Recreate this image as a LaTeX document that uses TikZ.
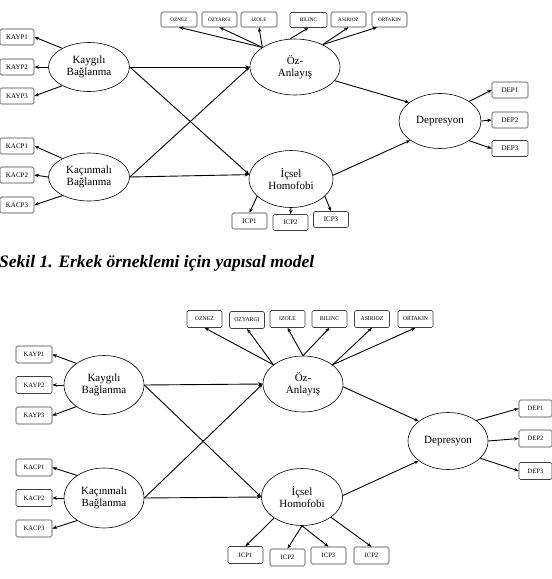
\documentclass[tikz,border=0pt]{standalone}
\usepackage{fontspec}
\setmainfont{Liberation Serif}
\usetikzlibrary{shapes.geometric,arrows.meta,calc}
\tikzset{
  lat/.style={ellipse, draw, line width=0.6pt, inner sep=0pt, align=center, font=\fontsize{11}{12.5}\selectfont},
  ind/.style={draw=black!75, rounded corners=1.5pt, line width=0.6pt, minimum width=35pt, minimum height=16pt, inner sep=0pt, font=\fontsize{7}{8}\selectfont},
  indt/.style={ind, minimum height=15pt, font=\fontsize{5.2}{6}\selectfont},
  indb/.style={ind, minimum height=17pt, font=\fontsize{5.8}{6.5}\selectfont},
  indl/.style={ind, minimum height=17pt, font=\fontsize{6.6}{7.5}\selectfont},
  arr/.style={-{Stealth[length=4.5pt,width=3.5pt]}, line width=0.9pt},
  capt/.style={anchor=base west, inner sep=0pt, font=\fontsize{17.5}{19}\selectfont\bfseries\itshape}
}
\begin{document}
\begin{tikzpicture}[x=1pt,y=-1pt]
\useasboundingbox (0,0) rectangle (552,579);
% ================= TOP MODEL =================
\node[lat, minimum width=81pt, minimum height=49pt] (KaygT) at (89,67) {Kaygılı\\Bağlanma};
\node[lat, minimum width=81pt, minimum height=48pt] (KacT) at (89,177) {Kaçınmalı\\Bağlanma};
\node[lat, minimum width=90pt, minimum height=56pt] (OzT) at (295,67) {Öz-\\Anlayış};
\node[lat, minimum width=84pt, minimum height=57pt] (IcT) at (291,179) {İçsel\\Homofobi};
\node[lat, minimum width=82pt, minimum height=55pt] (DepT) at (440,121) {Depresyon};

\node[ind, minimum width=34pt] (KAYP1t) at (17,37) {KAYP1};
\node[ind, minimum width=34pt] (KAYP2t) at (17,67) {KAYP2};
\node[ind, minimum width=34pt] (KAYP3t) at (17,96) {KAYP3};
\node[ind, minimum width=34pt] (KACP1t) at (17,146) {KACP1};
\node[ind, minimum width=34pt] (KACP2t) at (17,175) {KACP2};
\node[ind, minimum width=34pt] (KACP3t) at (17,205) {KACP3};

\node[indt, minimum width=36pt] (OZNEZt) at (179,19.5) {OZNEZ};
\node[indt] (OZYARGIt) at (219.5,19.5) {OZYARGI};
\node[indt, minimum width=36pt] (IZOLEt) at (259,19.5) {IZOLE};
\node[indt, minimum width=37pt] (BILINCt) at (308.5,20) {BILINC};
\node[indt] (ASIRIOZt) at (348.5,19.5) {ASIRIOZ};
\node[indt] (ORTAKINt) at (389.5,19.5) {ORTAKIN};

\node[ind, minimum width=36pt] (DEP1t) at (510,90) {DEP1};
\node[ind, minimum width=36pt] (DEP2t) at (510,120) {DEP2};
\node[ind, minimum width=36pt] (DEP3t) at (510,148.5) {DEP3};

\node[ind] (ICP1t) at (249.5,221) {ICP1};
\node[ind] (ICP2t) at (290.5,222.5) {ICP2};
\node[ind] (ICP3t) at (331,219.5) {ICP3};

\draw[arr] (KaygT.145) -- (KAYP1t.east);
\draw[arr] (KaygT.west) -- (KAYP2t.east);
\draw[arr] (KaygT.215) -- (KAYP3t.east);
\draw[arr] (KacT.145) -- (KACP1t.east);
\draw[arr] (KacT.west) -- (KACP2t.east);
\draw[arr] (KacT.215) -- (KACP3t.east);

\draw[arr] (KaygT.east) -- (OzT.west);
\draw[arr] (KaygT.east) -- (IcT.174);
\draw[arr] (KacT.east) -- (OzT.west);
\draw[arr] (KacT.east) -- (IcT.174);

\draw[arr] (OzT.149) -- (OZNEZt.south);
\draw[arr] (OzT.149) -- (OZYARGIt.south);
\draw[arr] (OzT.149) -- (IZOLEt.south);
\draw[arr] (OzT.100) -- (BILINCt.south);
\draw[arr] (OzT.39) -- (ASIRIOZt.south);
\draw[arr] (OzT.39) -- ($(ORTAKINt.south west)!0.15!(ORTAKINt.south east)$);

\draw[arr] (OzT.-19) -- (DepT.149);
\draw[arr] (IcT.5) -- (DepT.213);

\draw[arr] (DepT.34) -- (DEP1t.west);
\draw[arr] (DepT.east) -- (DEP2t.west);
\draw[arr] (DepT.-34) -- (DEP3t.west);

\draw[arr] (IcT.207) -- (ICP1t.north);
\draw[arr] (IcT.south) -- (ICP2t.north);
\draw[arr] (IcT.333) -- (ICP3t.north);

% caption
\node[capt] (cap) at (-1,267) {Sekil 1. Erkek örneklemi için yapısal model};

% ================= BOTTOM MODEL =================
\node[lat, minimum width=80pt, minimum height=59pt] (KaygB) at (104,385) {Kaygılı\\Bağlanma};
\node[lat, minimum width=80pt, minimum height=60pt] (KacB) at (104,498) {Kaçınmalı\\Bağlanma};
\node[lat, minimum width=80pt, minimum height=56pt] (OzB) at (303,384) {Öz-\\Anlayış};
\node[lat, minimum width=81pt, minimum height=57pt] (IcB) at (302,497) {İçsel\\Homofobi};
\node[lat, minimum width=80pt, minimum height=57pt] (DepB) at (448,441) {Depresyon};

\node[indl, minimum width=36pt] (KAYP1b) at (34,354.5) {KAYP1};
\node[indl, minimum width=36pt] (KAYP2b) at (34,385) {KAYP2};
\node[indl, minimum width=36pt] (KAYP3b) at (34,415.5) {KAYP3};
\node[indl, minimum width=36pt] (KACP1b) at (34,467.5) {KACP1};
\node[indl, minimum width=36pt] (KACP2b) at (34,498) {KACP2};
\node[indl, minimum width=36pt] (KACP3b) at (34,528.5) {KACP3};

\node[indb] (OZNEZb) at (204.5,319) {OZNEZ};
\node[indb] (OZYARGIb) at (247,320) {OZYARGI};
\node[indb] (IZOLEb) at (287.5,319) {IZOLE};
\node[indb] (BILINCb) at (329.5,319) {BILINC};
\node[indb] (ASIRIOZb) at (372,319) {ASIRIOZ};
\node[indb] (ORTAKINb) at (415.5,319) {ORTAKIN};

\node[indl, minimum width=33pt] (DEP1b) at (535.5,408.5) {DEP1};
\node[indl, minimum width=33pt] (DEP2b) at (535.5,438.5) {DEP2};
\node[indl, minimum width=33pt] (DEP3b) at (535.5,471) {DEP3};

\node[indl] (ICP1b) at (245.5,555) {ICP1};
\node[indl] (ICP2b) at (287.5,557.5) {ICP2};
\node[indl] (ICP3b) at (328.5,555.5) {ICP3};
\node[indl] (ICP4b) at (371.5,555.5) {ICP2};

\draw[arr] (KaygB.142) -- (KAYP1b.east);
\draw[arr] (KaygB.west) -- (KAYP2b.east);
\draw[arr] (KaygB.218) -- (KAYP3b.east);
\draw[arr] (KacB.140) -- (KACP1b.east);
\draw[arr] (KacB.west) -- (KACP2b.east);
\draw[arr] (KacB.220) -- (KACP3b.east);

\draw[arr] (KaygB.east) -- (OzB.west);
\draw[arr] (KaygB.east) -- (IcB.west);
\draw[arr] (KacB.east) -- (OzB.west);
\draw[arr] (KacB.east) -- (IcB.west);

\draw[arr] (OzB.147) -- (OZNEZb.south);
\draw[arr] (OzB.147) -- (OZYARGIb.south);
\draw[arr] (OzB.north) -- (IZOLEb.south);
\draw[arr] (OzB.north) -- (BILINCb.south);
\draw[arr] (OzB.33) -- (ASIRIOZb.south);
\draw[arr] (OzB.33) -- (ORTAKINb.south);

\draw[arr] (OzB.-4) -- (DepB.146);
\draw[arr] (IcB.2) -- (DepB.214);

\draw[arr] (DepB.36) -- (DEP1b.west);
\draw[arr] (DepB.east) -- (DEP2b.west);
\draw[arr] (DepB.-28) -- (DEP3b.west);

\draw[arr] (IcB.217) -- (ICP1b.north);
\draw[arr] (IcB.south) -- (ICP2b.north);
\draw[arr] (IcB.south) -- (ICP3b.north);
\draw[arr] (IcB.325) -- (ICP4b.north);
\end{tikzpicture}
\end{document}
